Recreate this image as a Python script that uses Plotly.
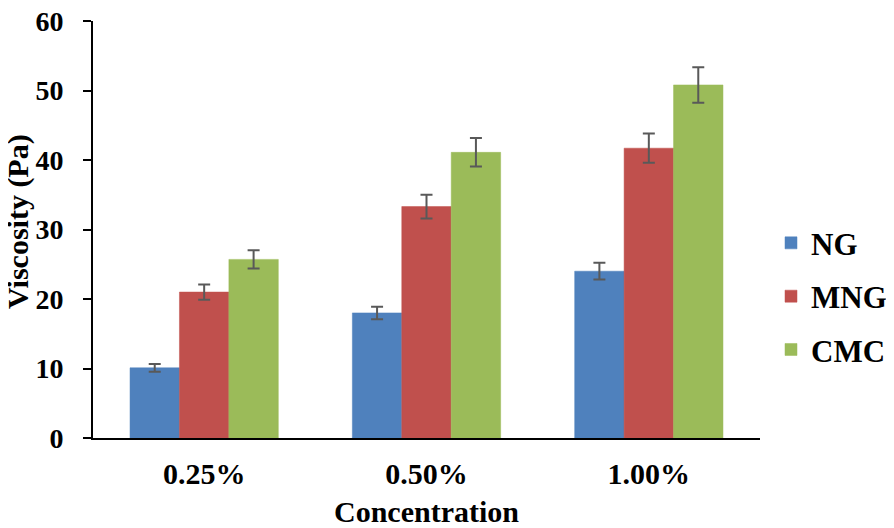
import plotly.graph_objects as go

categories = ["0.25%", "0.50%", "1.00%"]
series_names = ["NG", "MNG", "CMC"]
ng = [10.1, 18.0, 24.0]
mng = [21.0, 33.3, 41.7]
cmc = [25.7, 41.1, 50.8]
ng_err = [0.55, 0.9, 1.2]
mng_err = [1.1, 1.7, 2.1]
cmc_err = [1.3, 2.05, 2.55]
colors = ["#4F81BD", "#C0504D", "#9BBB59"]
y_title = "Viscosity (Pa)"
x_title = "Concentration"

FONT = "Liberation Serif"

fig = go.Figure()
for name, vals, errs, col in zip(series_names, [ng, mng, cmc], [ng_err, mng_err, cmc_err], colors):
    fig.add_trace(go.Bar(
        x=categories, y=vals, name=name, legendgroup=name,
        marker=dict(color=col, line=dict(color=col, width=0.5)),
        error_y=dict(type="data", array=errs, visible=True, color="#595959", thickness=2, width=6),
    ))

# page body has an 8px margin, so the figure is sized 8px smaller
fig.update_layout(
    width=886, height=520,
    margin=dict(l=85, r=134, t=13, b=90, autoexpand=False),
    paper_bgcolor="white", plot_bgcolor="white",
    barmode="group", bargap=0.333, bargroupgap=0,
    font=dict(family=FONT, color="black"),
    showlegend=True,
    legend=dict(
        x=1.0165, y=0.34, xanchor="left", yanchor="middle",
        font=dict(family=FONT, size=31, color="black", weight="bold"),
        tracegroupgap=10, traceorder="grouped",
        itemwidth=30,
    ),
    xaxis=dict(
        showline=True, linecolor="black", linewidth=2,
        ticks="", showgrid=False, automargin=False, ticklabelstandoff=8,
        tickfont=dict(family=FONT, size=30, color="black", weight="bold"),
        title=dict(text=x_title, font=dict(family=FONT, size=30, color="black", weight="bold"), standoff=12),
    ),
    yaxis=dict(
        range=[0, 60], dtick=10, automargin=False,
        showline=True, linecolor="black", linewidth=2,
        ticks="outside", ticklen=8, tickwidth=2, tickcolor="black",
        showgrid=False, zeroline=False, ticklabeloverflow="allow", ticklabelstandoff=14,
        tickfont=dict(family=FONT, size=28, color="black", weight="bold"),
    ),
    annotations=[dict(
        text=y_title, textangle=-90, showarrow=False,
        xref="paper", yref="paper", x=0, y=0.518,
        xanchor="center", yanchor="middle", xshift=-75,
        font=dict(family=FONT, size=30, color="black", weight="bold"),
    )],
)

fig.write_html("out.html")
